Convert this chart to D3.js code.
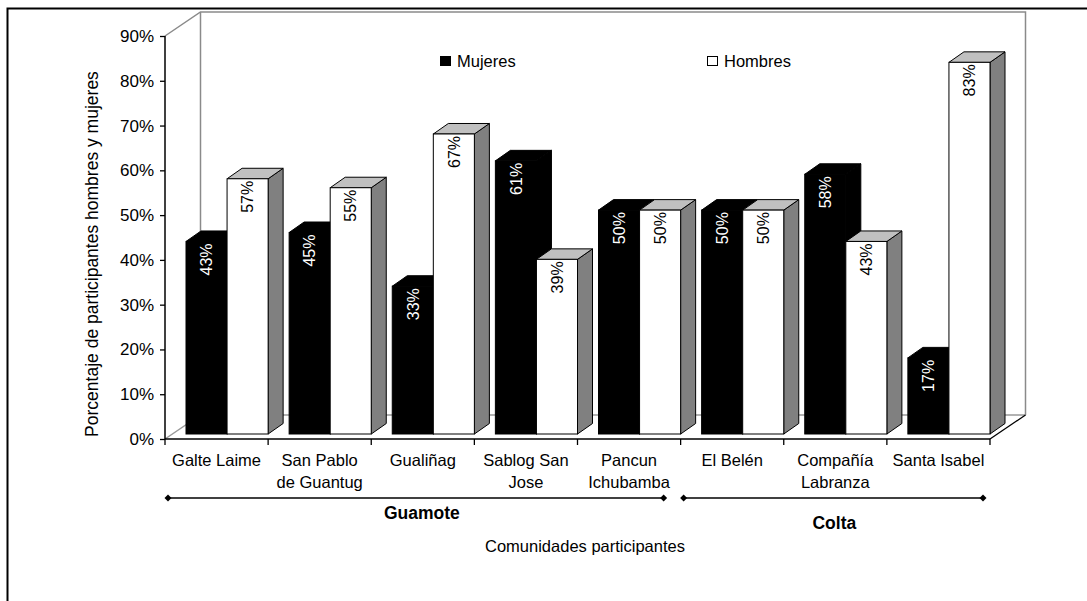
<!DOCTYPE html>
<html>
<head>
<meta charset="utf-8">
<script src="https://cdn.jsdelivr.net/npm/d3@7"></script>
<style>
  html, body { margin: 0; padding: 0; background: #fff; }
  svg { display: block; }
  text { font-family: "Liberation Sans", Arial, sans-serif; fill: #000; }
</style>
</head>
<body>
<svg id="chart" width="1087" height="601"></svg>
<script>
// Communities (line breaks as in the axis labels)
const categories = [
  "Galte Laime",
  "San Pablo\nde Guantug",
  "Gualiñag",
  "Sablog San\nJose",
  "Pancun\nIchubamba",
  "El Belén",
  "Compañía\nLabranza",
  "Santa Isabel"
];
// Share of participants, in percent
const mujeres = [43, 45, 33, 61, 50, 50, 58, 17];
const hombres = [57, 55, 67, 39, 50, 50, 43, 83];
const yTicks = [0, 10, 20, 30, 40, 50, 60, 70, 80, 90];
const seriesNames = ["Mujeres", "Hombres"];
// Canton groups: name, first and last community index
const groupNames = ["Guamote", "Colta"];
const groupFirst = [0, 5];
const groupLast = [4, 7];

const svg = d3.select("#chart");

// Layout
const plotLeft = 165, plotRight = 990, plotBottom = 439, plotTop = 36;
const wallDx = 35.5, wallDy = -24;      // depth of floor / back wall
const barShiftDx = 0, barShiftDy = -5;  // bars sit slightly behind the front edge
const barDepthDx = 15, barDepthDy = -10.5;
const barInset = 21;                     // gap before the first bar of each category

const x = d3.scaleBand().domain(categories).range([plotLeft, plotRight]).padding(0);
const y = d3.scaleLinear().domain([0, 90]).range([plotBottom, plotTop]);

// Outer frame
svg.append("rect")
  .attr("x", 7.5).attr("y", 8.5).attr("width", 1200).attr("height", 800)
  .attr("fill", "none").attr("stroke", "#000").attr("stroke-width", 2);

// Back wall and floor outline
const wall = svg.append("g").attr("fill", "none").attr("stroke", "#8a8a8a").attr("stroke-width", 1.5);
const bx0 = plotLeft + wallDx, bx1 = plotRight + wallDx;
const byTop = y(90) + wallDy, byBot = y(0) + wallDy;
wall.append("path").attr("d", `M${plotLeft},${y(90)}L${bx0},${byTop}L${bx1},${byTop}L${bx1},${byBot}`);
wall.append("path").attr("d", `M${bx0},${byTop}L${bx0},${byBot}`);
wall.append("path").attr("d", `M${plotLeft},${y(0)}L${bx0},${byBot}L${bx1},${byBot}`).attr("stroke", "#999");
svg.append("path")
  .attr("d", `M${plotRight},${y(0)}L${bx1},${byBot}`)
  .attr("stroke", "#000").attr("stroke-width", 1.3).attr("fill", "none");

// Bars
const bw = (x.bandwidth() - barInset) / 2;
const barsG = svg.append("g");

function box(g, x0, v, front, topFill, sideFill, stroke) {
  const yb = y(0) + barShiftDy;
  const yt = y(v) + barShiftDy;
  const x1 = x0 + bw;
  const dx = barDepthDx, dy = barDepthDy;
  // side face
  g.append("path")
    .attr("d", `M${x1},${yb}L${x1 + dx},${yb + dy}L${x1 + dx},${yt + dy}L${x1},${yt}Z`)
    .attr("fill", sideFill).attr("stroke", stroke).attr("stroke-width", 1).attr("stroke-linejoin", "round");
  // top face
  g.append("path")
    .attr("d", `M${x0},${yt}L${x0 + dx},${yt + dy}L${x1 + dx},${yt + dy}L${x1},${yt}Z`)
    .attr("fill", topFill).attr("stroke", stroke).attr("stroke-width", 1).attr("stroke-linejoin", "round");
  // front face
  g.append("rect")
    .attr("x", x0).attr("y", yt).attr("width", bw).attr("height", yb - yt)
    .attr("fill", front).attr("stroke", stroke).attr("stroke-width", 1);
}

categories.forEach((c, i) => {
  const g = barsG.append("g");
  const xm = x(c) + barShiftDx + barInset;
  box(g, xm, mujeres[i], "#000", "#000", "#000", "#000");
  box(g, xm + bw, hombres[i], "#fff", "#c0c0c0", "#808080", "#000");
});

// Value labels, rotated, near the top of each bar
const labG = svg.append("g").attr("font-size", 16);
categories.forEach((c, i) => {
  const xm = x(c) + barShiftDx + barInset;
  [[mujeres[i], xm, "#fff"], [hombres[i], xm + bw, "#000"]].forEach(([v, x0, col]) => {
    const cx = x0 + bw / 2;
    const ty = y(v) + barShiftDy + 2;
    labG.append("text")
      .attr("transform", `translate(${cx},${ty}) rotate(-90)`)
      .attr("text-anchor", "end")
      .attr("dy", "0.36em")
      .style("fill", col)
      .text(v + "%");
  });
});

// Y axis
const yAxis = d3.axisLeft(y)
  .tickValues(yTicks)
  .tickFormat(d => d + "%")
  .tickSize(5)
  .tickPadding(6);
const yg = svg.append("g").attr("transform", `translate(${plotLeft},0)`).call(yAxis);
yg.select(".domain").attr("stroke", "#000").attr("stroke-width", 1.5).attr("d", `M0,${y(90)}V${y(0)}`);
yg.selectAll(".tick line").attr("stroke", "#000").attr("stroke-width", 1.3);
yg.selectAll(".tick text").attr("font-size", 17).attr("font-family", "Liberation Sans, Arial, sans-serif").style("fill", "#000");

// X axis line with ticks at category boundaries
const xg = svg.append("g").attr("stroke", "#000");
xg.append("path").attr("d", `M${plotLeft},${y(0)}H${plotRight}`).attr("stroke-width", 1.5).attr("fill", "none");
const bounds = categories.map(c => x(c)).concat([x(categories[categories.length - 1]) + x.bandwidth()]);
xg.selectAll("line.b").data(bounds).join("line")
  .attr("x1", d => d).attr("x2", d => d)
  .attr("y1", y(0)).attr("y2", y(0) + 6)
  .attr("stroke-width", 1.3);

// Category labels
const catG = svg.append("g").attr("font-size", 16.5).attr("text-anchor", "middle");
categories.forEach(c => {
  const t = catG.append("text").attr("x", x(c) + x.bandwidth() / 2).attr("y", 466);
  c.split("\n").forEach((line, k) => {
    t.append("tspan").attr("x", x(c) + x.bandwidth() / 2).attr("dy", k === 0 ? 0 : 22).text(line);
  });
});

// Canton brackets
const grpG = svg.append("g");
const bracketY = 498;
groupNames.forEach((name, gi) => {
  const xa = x(categories[groupFirst[gi]]) + 3;
  const xb = x(categories[groupLast[gi]]) + x.bandwidth() - (gi === 0 ? 17 : 7);
  grpG.append("line").attr("x1", xa).attr("x2", xb).attr("y1", bracketY).attr("y2", bracketY)
    .attr("stroke", "#000").attr("stroke-width", 1.5);
  [xa, xb].forEach(px => {
    grpG.append("path")
      .attr("d", `M${px - 3.5},${bracketY}L${px},${bracketY - 3.5}L${px + 3.5},${bracketY}L${px},${bracketY + 3.5}Z`)
      .attr("fill", "#000");
  });
  grpG.append("text")
    .attr("x", (xa + xb) / 2 + (gi === 0 ? 6 : 1))
    .attr("y", gi === 0 ? 519 : 529)
    .attr("text-anchor", "middle")
    .attr("font-size", 17.5).attr("font-weight", "bold")
    .text(name);
});

// Axis titles
svg.append("text")
  .attr("x", 585).attr("y", 552)
  .attr("text-anchor", "middle").attr("font-size", 16.5)
  .text("Comunidades participantes");
svg.append("text")
  .attr("transform", `translate(98,254) rotate(-90)`)
  .attr("text-anchor", "middle").attr("font-size", 17.5)
  .text("Porcentaje de participantes hombres y mujeres");

// Legend
const legend = svg.append("g").attr("font-size", 16.5);
const legendX = [440, 707];
seriesNames.forEach((n, k) => {
  legend.append("rect")
    .attr("x", legendX[k] + 0.5).attr("y", 56.5).attr("width", 10).attr("height", 9)
    .attr("fill", k === 0 ? "#000" : "#fff").attr("stroke", "#000").attr("stroke-width", 1);
  legend.append("text").attr("x", legendX[k] + 17).attr("y", 67).text(n);
});
</script>
</body>
</html>
